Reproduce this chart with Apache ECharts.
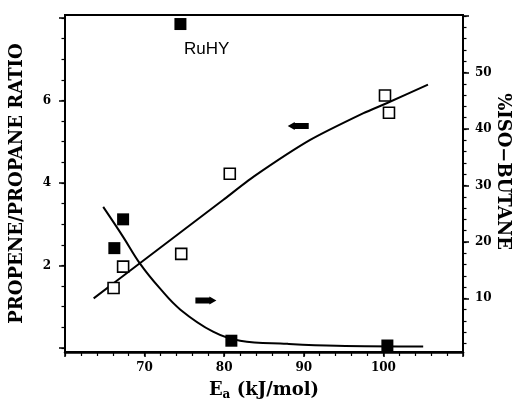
<!DOCTYPE html>
<html>
<head>
<meta charset="utf-8">
<script src="https://cdn.jsdelivr.net/npm/echarts@6/dist/echarts.min.js"></script>
<style>html,body{margin:0;padding:0;background:#fff;overflow:hidden;}#c{width:518px;height:403px;}</style>
</head>
<body>
<div id="c"></div>
<script>
// Open squares: propene/propane ratio (left axis)
var ratioX = [66.1, 67.3, 74.6, 80.7, 100.2, 100.7];
var ratioY = [1.45, 1.97, 2.28, 4.22, 6.12, 5.70];
// Filled squares: % iso-butane (right axis)
var isoX = [66.2, 67.3, 74.5, 80.9, 100.5];
var isoY = [18.9, 24.0, 58.6, 2.5, 1.65];
// Fitted curves
var ratioCurveX = [63.6, 69.4, 79.9, 83.7, 90.8, 97.5, 100.4, 105.6];
var ratioCurveY = [1.20, 2.05, 3.59, 4.15, 5.04, 5.69, 5.93, 6.38];
var isoCurveX = [64.8, 67.3, 69.4, 71.9, 74.5, 78.6, 82.0, 87.9, 94.1, 105.0];
var isoCurveY = [26.2, 20.9, 16.2, 11.8, 8.0, 4.1, 2.5, 1.95, 1.6, 1.47];
// Tick labels
var xLabels = [70, 80, 90, 100];
var leftLabels = [2, 4, 6];
var rightLabels = [10, 20, 30, 40, 50];
// Annotations
var arrowLeftPos = [89.3, 5.38];   // points to left axis series
var arrowRightPos = [77.7, 1.15];  // points to right axis series
var annotText = 'RuHY';
var annotPos = [77.8, 7.24];

function zip(a, b) { return a.map(function (v, i) { return [v, b[i]]; }); }
function range(a, b, s) { var r = []; for (var v = a; v <= b + 1e-9; v += s) r.push(Math.round(v * 100) / 100); return r; }

var serif = 'DejaVu Serif';
var lblStyle = { fontFamily: serif, fontWeight: 'bold', fontSize: 12, color: '#000' };
var nameStyle = { fontFamily: serif, fontWeight: 'bold', fontSize: 18, color: '#000' };
var lineBlack = { color: '#000', width: 2 };
var arrowPath = 'path://M0,1 L14,1 L14,0 L21,4 L14,8 L14,7 L0,7 Z';

var chart = echarts.init(document.getElementById('c'), null, { renderer: 'canvas' });
chart.setOption({
  animation: false,
  backgroundColor: '#fff',
  grid: {
    left: 65, right: 55, top: 15, bottom: 51, containLabel: false, outerBoundsMode: 'none',
    show: true, borderColor: '#000', borderWidth: 2, backgroundColor: 'transparent'
  },
  xAxis: [
    {
      type: 'value', min: 60, max: 110, position: 'bottom',
      axisLine: { onZero: false, lineStyle: { color: '#000', width: 2.5 } },
      axisTick: { show: true, customValues: range(60, 110, 10), length: 5, lineStyle: { color: '#000', width: 1.5 } },
      axisLabel: Object.assign({ customValues: xLabels, margin: 10 }, lblStyle),
      splitLine: { show: false },
      name: '{e|E}{s|a}{n| (kJ/mol)}', nameLocation: 'middle', nameGap: 27, nameMoveOverlap: false,
      nameTextStyle: {
        rich: {
          e: nameStyle,
          s: { fontFamily: serif, fontWeight: 'bold', fontSize: 12, color: '#000', padding: [10, 0, 0, 0] },
          n: nameStyle
        }
      }
    },
    {
      type: 'value', min: 60, max: 110, position: 'bottom',
      axisLine: { show: false, onZero: false },
      axisTick: { show: true, customValues: range(60, 110, 2), length: 4, lineStyle: { color: '#000', width: 1.2 } },
      axisLabel: { show: false }, splitLine: { show: false }
    }
  ],
  yAxis: [
    {
      type: 'value', min: -0.1, max: 8.07, position: 'left',
      axisLine: { show: true, onZero: false, lineStyle: { color: '#000', width: 2 } },
      axisTick: { show: true, customValues: range(0, 8, 2), length: 6, lineStyle: { color: '#000', width: 1.5 } },
      axisLabel: Object.assign({ customValues: leftLabels, margin: 14 }, lblStyle),
      splitLine: { show: false },
      name: 'PROPENE/PROPANE RATIO', nameLocation: 'middle', nameGap: 39, nameRotate: 90, nameMoveOverlap: false,
      nameTextStyle: nameStyle
    },
    {
      type: 'value', min: -0.1, max: 8.07, position: 'left',
      axisLine: { show: false, onZero: false },
      axisTick: { show: true, customValues: range(0, 8, 0.5), length: 3.5, lineStyle: { color: '#000', width: 1.2 } },
      axisLabel: { show: false }, splitLine: { show: false }
    },
    {
      type: 'value', min: 0.5, max: 60.2, position: 'right',
      axisLine: { show: true, onZero: false, lineStyle: { color: '#000', width: 2 } },
      axisTick: { show: true, customValues: range(10, 60, 10), length: 6, lineStyle: { color: '#000', width: 1.5 } },
      axisLabel: Object.assign({ customValues: rightLabels, margin: 12 }, lblStyle),
      splitLine: { show: false },
      name: '%ISO\u2212BUTANE', nameLocation: 'middle', nameGap: 31, nameRotate: -90, nameMoveOverlap: false,
      nameTextStyle: Object.assign({ padding: [0, 24, 0, 0] }, nameStyle)
    },
    {
      type: 'value', min: 0.5, max: 60.2, position: 'right',
      axisLine: { show: false, onZero: false },
      axisTick: { show: true, customValues: range(2, 60, 2), length: 3.5, lineStyle: { color: '#000', width: 1.2 } },
      axisLabel: { show: false }, splitLine: { show: false }
    }
  ],
  series: [
    {
      type: 'line', xAxisIndex: 0, yAxisIndex: 0, data: zip(ratioCurveX, ratioCurveY),
      symbol: 'none', smooth: 0.2, lineStyle: lineBlack, z: 2
    },
    {
      type: 'line', xAxisIndex: 0, yAxisIndex: 2, data: zip(isoCurveX, isoCurveY),
      symbol: 'none', smooth: 0.4, lineStyle: lineBlack, z: 2
    },
    {
      type: 'scatter', xAxisIndex: 0, yAxisIndex: 0, data: zip(ratioX, ratioY),
      symbol: 'rect', symbolSize: 11,
      itemStyle: { color: '#fff', borderColor: '#000', borderWidth: 1.6, opacity: 1 }, z: 5
    },
    {
      type: 'scatter', xAxisIndex: 0, yAxisIndex: 2, data: zip(isoX, isoY),
      symbol: 'rect', symbolSize: 12,
      itemStyle: { color: '#000', opacity: 1 }, z: 6
    },
    {
      type: 'scatter', xAxisIndex: 0, yAxisIndex: 0,
      data: [
        { value: arrowLeftPos, symbolRotate: 180 },
        { value: arrowRightPos, symbolRotate: 0 }
      ],
      symbol: arrowPath, symbolSize: [21, 8], symbolKeepAspect: false,
      itemStyle: { color: '#000', opacity: 1 }, z: 4
    },
    {
      type: 'scatter', xAxisIndex: 0, yAxisIndex: 0,
      data: [annotPos], symbolSize: 0,
      itemStyle: { opacity: 1, color: '#000' },
      label: {
        show: true, position: 'inside', formatter: annotText,
        fontFamily: 'Liberation Sans', fontSize: 17, color: '#000', opacity: 1
      },
      z: 4
    }
  ]
});
</script>
</body>
</html>
